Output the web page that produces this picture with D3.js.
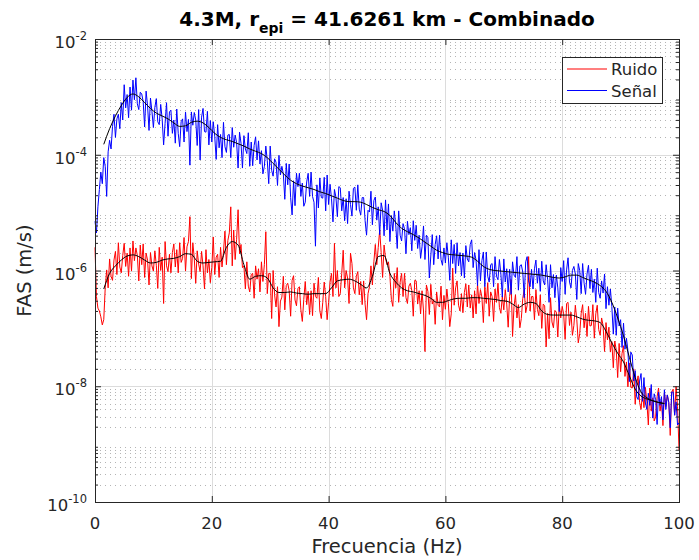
<!DOCTYPE html>
<html>
<head>
<meta charset="utf-8">
<script src="https://cdn.jsdelivr.net/npm/d3@7"></script>
<style>
  body { margin: 0; background: #fff; }
  svg { display: block; }
  text { font-family: "DejaVu Sans", sans-serif; fill: #262626; }
</style>
</head>
<body>
<svg id="chart" width="699" height="560"></svg>
<script>
// Axis ticks
const xTicks = [0, 20, 40, 60, 80, 100];
const yDecades = [-10, -8, -6, -4, -2];
const seriesNames = ["Ruido", "Señal"];

// Raw Fourier amplitude spectra, log10(m/s), sampled every 0.25 Hz from 0 to 100 Hz
// (one row = 5 Hz)
const rawStep = 0.25;
const ruidoLog10 = [
  -5.60,-6.45,-6.65,-6.70, -6.80,-6.94,-6.85,-6.30, -5.99,-6.30,-5.80,-6.10, -6.17,-5.82,-5.67,-6.07, -5.52,-5.94,-6.04,-5.74,
  -5.53,-5.93,-5.70,-6.10, -5.61,-6.01,-5.49,-5.83, -5.61,-5.74,-6.18,-5.56, -5.90,-5.54,-6.12,-5.70, -5.82,-6.25,-5.69,-5.92,
  -6.01,-5.66,-5.91,-6.31, -5.60,-6.00,-5.77,-6.57, -5.50,-5.92,-6.02,-5.72, -6.04,-5.69,-5.54,-5.94, -5.64,-6.04,-5.52,-5.86,
  -5.79,-5.43,-6.01,-5.59, -5.50,-5.07,-6.14,-5.52, -5.79,-6.22,-5.66,-5.89, -6.02,-5.67,-5.92,-6.32, -5.64,-6.04,-5.81,-6.21,
  -5.95,-5.42,-6.07,-5.77, -5.72,-6.12,-5.60,-5.94, -5.68,-5.32,-5.90,-5.48, -5.35,-4.90,-5.92,-5.30, -5.81,-5.46,-4.95,-5.71,
  -5.55,-5.95,-5.92,-6.32, -5.85,-6.27,-6.37,-6.07, -6.05,-6.48,-5.92,-6.15, -5.97,-6.37,-5.85,-6.19, -5.90,-5.33,-6.40,-6.05,
  -6.05,-6.83,-6.00,-6.42, -6.63,-6.28,-6.97,-6.53, -6.46,-6.10,-6.68,-6.26, -6.22,-6.35,-6.79,-6.17, -6.09,-6.51,-6.61,-6.31,
  -6.28,-6.68,-6.88,-6.50, -6.19,-6.59,-6.36,-6.76, -6.35,-6.78,-6.22,-6.45, -6.48,-6.12,-6.70,-6.83, -6.55,-6.20,-6.45,-6.85,
  -6.55,-6.20,-6.05,-6.45, -5.53,-6.30,-6.00,-6.45, -6.40,-6.05,-5.65,-6.30, -6.00,-6.13,-6.57,-5.70, -5.88,-6.30,-6.40,-6.10,
  -6.02,-6.42,-6.19,-6.59, -6.18,-6.58,-6.85,-6.40, -6.28,-5.92,-6.25,-5.85, -5.55,-5.90,-5.60,-5.30, -5.69,-6.12,-5.56,-5.79,
  -5.90,-5.85,-6.10,-6.50, -6.62,-6.05,-6.30,-5.95, -6.55,-6.20,-6.05,-6.45, -6.05,-6.47,-6.57,-6.27, -6.22,-6.35,-6.79,-6.17,
  -6.18,-6.58,-6.35,-6.75, -6.35,-6.70,-7.40,-6.25, -6.36,-6.76,-6.24,-6.58, -6.50,-6.93,-6.37,-6.60, -6.63,-6.27,-6.85,-6.43,
  -6.67,-6.32,-6.57,-6.97, -6.75,-5.96,-6.60,-6.30, -6.18,-6.60,-6.70,-6.40, -6.73,-6.38,-6.23,-6.63, -6.25,-6.65,-6.42,-6.82,
  -6.35,-6.75,-6.23,-6.57, -6.33,-6.46,-6.90,-6.28, -6.57,-6.21,-6.79,-6.37, -6.45,-6.88,-6.32,-6.55, -6.22,-6.64,-6.74,-6.44,
  -6.68,-6.33,-6.58,-6.98, -6.45,-6.16,-7.14,-6.62, -6.42,-6.82,-6.59,-6.99, -6.83,-6.48,-6.33,-6.73, -6.60,-5.76,-6.70,-6.45,
  -6.45,-6.85,-6.33,-6.67, -6.78,-6.42,-7.00,-6.58, -6.61,-7.32,-6.74,-7.18, -6.47,-6.89,-6.99,-6.69, -6.72,-7.15,-6.59,-6.82,
  -6.62,-6.75,-7.19,-6.57, -6.55,-6.95,-6.72,-7.12, -6.95,-6.60,-6.85,-7.25, -7.09,-6.74,-6.59,-6.99, -6.74,-7.14,-6.62,-6.96,
  -6.95,-6.59,-7.17,-6.75, -6.60,-7.02,-7.12,-6.82, -6.95,-7.40,-6.90,-7.20, -6.98,-7.41,-7.23,-7.68, -7.22,-7.37,-7.85,-7.26,
  -7.75,-7.43,-7.30,-7.83, -7.58,-8.01,-7.60,-8.02, -8.03,-7.70,-8.31,-7.97, -7.82,-8.28,-8.40,-8.11, -8.37,-8.02,-8.27,-8.67,
  -8.03,-8.43,-8.20,-8.60, -8.53,-8.18,-8.03,-8.43, -8.25,-8.68,-8.12,-8.35, -8.15,-8.28,-8.85,-8.10, -8.05,-8.50,-8.00,-8.35,
  -9.10
];
const senalLog10 = [
  -5.15,-5.35,-4.90,-4.60, -4.30,-4.50,-4.05,-4.20, -4.72,-3.95,-3.75,-3.90, -3.51,-3.30,-3.70,-3.38, -3.30,-3.55,-3.10,-3.40,
  -2.79,-3.19,-2.96,-3.36, -2.83,-3.23,-2.71,-3.05, -2.67,-3.12,-3.22,-2.92, -2.95,-3.08,-3.52,-2.90, -3.15,-3.58,-3.02,-3.25,
  -3.53,-3.18,-3.03,-3.43, -3.48,-3.13,-3.38,-3.83, -3.46,-3.10,-3.68,-3.26, -3.23,-3.63,-3.40,-3.80, -3.21,-3.63,-3.86,-3.43,
  -3.38,-3.78,-3.26,-3.60, -3.39,-4.18,-3.26,-3.49, -3.27,-3.40,-3.84,-3.22, -4.09,-3.35,-3.20,-3.60, -3.61,-3.25,-3.83,-3.41,
  -3.78,-3.43,-3.68,-4.08, -3.48,-3.88,-3.65,-4.05, -3.44,-3.86,-3.96,-3.66, -3.65,-4.05,-3.53,-3.87, -3.66,-3.79,-4.23,-3.61,
  -3.80,-4.23,-3.67,-3.90, -3.98,-3.62,-4.20,-3.78, -4.19,-3.84,-3.69,-4.09, -3.76,-4.16,-3.93,-4.33, -4.20,-3.85,-4.10,-4.50,
  -3.85,-4.27,-4.37,-4.07, -4.13,-4.53,-4.01,-4.35, -4.20,-4.33,-4.77,-4.15, -4.52,-4.16,-4.74,-5.04, -4.45,-4.88,-4.32,-4.55,
  -4.32,-4.72,-4.49,-4.89, -4.82,-4.47,-4.32,-4.72, -4.30,-4.72,-4.82,-5.58, -4.52,-4.92,-4.40,-4.74, -4.75,-4.39,-4.97,-4.35,
  -4.86,-4.51,-4.76,-5.16, -4.60,-4.73,-5.07,-4.55, -4.57,-4.97,-4.74,-5.14, -4.76,-5.19,-4.63,-4.86, -5.06,-4.58,-4.56,-4.96,
  -4.52,-4.94,-5.04,-4.74, -4.74,-5.14,-5.39,-4.96, -4.99,-4.63,-5.21,-4.79, -4.73,-5.13,-4.90,-5.38, -4.83,-4.96,-5.40,-4.78,
  -5.30,-4.85,-5.50,-5.05, -5.32,-4.97,-5.22,-5.62, -4.97,-5.39,-5.49,-5.19, -5.28,-5.71,-5.15,-5.38, -5.26,-5.66,-5.14,-5.48,
  -5.22,-5.62,-5.39,-5.79, -5.59,-5.23,-5.81,-5.39, -5.43,-6.13,-5.75,-5.38, -5.90,-5.55,-5.40,-5.80, -5.39,-5.81,-5.91,-5.61,
  -5.87,-5.52,-5.77,-6.17, -5.47,-5.88,-5.55,-6.05, -5.52,-5.92,-5.69,-6.09, -5.70,-6.13,-5.57,-5.80, -5.85,-5.55,-5.47,-5.95,
  -5.69,-5.82,-6.26,-5.64, -6.18,-5.83,-5.68,-6.28, -5.68,-6.10,-6.20,-5.90, -5.88,-6.28,-5.76,-6.10, -6.16,-5.81,-6.06,-6.46,
  -5.80,-6.20,-5.97,-6.37, -5.98,-6.41,-5.85,-6.08, -6.12,-5.76,-6.34,-5.92, -5.90,-6.03,-6.47,-5.85, -5.76,-6.18,-6.28,-5.98,
  -6.32,-5.97,-5.82,-6.22, -5.96,-6.36,-5.84,-6.18, -6.25,-5.90,-6.15,-6.55, -5.90,-6.30,-6.07,-6.47, -6.08,-6.30,-6.71,-5.95,
  -6.19,-5.83,-6.41,-5.99, -5.78,-6.20,-6.30,-6.00, -5.93,-6.06,-6.50,-5.88, -6.00,-6.40,-5.88,-6.22, -6.41,-6.06,-5.91,-6.31,
  -5.98,-6.38,-6.15,-6.55, -5.96,-6.38,-6.48,-6.18, -6.39,-6.06,-6.66,-6.28, -6.60,-6.32,-6.62,-7.10, -6.63,-7.12,-6.65,-6.96,
  -6.85,-7.33,-6.91,-7.36, -7.17,-7.38,-7.92,-7.41, -7.46,-7.91,-7.73,-8.18, -8.23,-7.91,-7.78,-8.26, -7.85,-8.29,-8.40,-8.12,
  -8.33,-7.97,-8.55,-8.13, -8.23,-8.66,-8.10,-8.33, -8.18,-8.58,-8.06,-8.40, -8.15,-8.28,-8.72,-8.10, -8.10,-8.50,-8.27,-8.67,
  -8.63
];

// Smoothed spectra, log10(m/s), every 1 Hz from 1.5 to 97.5 Hz
const smoothStart = 1.5;
const smoothStep = 1;
const ruidoSmoothLog10 = [
  -6.32,-6.05,-5.92,-5.82,-5.75,-5.73,-5.76,-5.82,-5.87,-5.86,
  -5.82,-5.80,-5.79,-5.76,-5.71,-5.72,-5.84,-5.87,-5.86,-5.85,
  -5.84,-5.60,-5.50,-5.56,-5.90,-6.15,-6.10,-6.09,-6.13,-6.30,
  -6.38,-6.38,-6.37,-6.39,-6.40,-6.41,-6.40,-6.40,-6.40,-6.30,
  -6.18,-6.16,-6.15,-6.18,-6.24,-6.30,-6.10,-5.76,-5.74,-6.05,
  -6.20,-6.30,-6.35,-6.37,-6.40,-6.43,-6.48,-6.55,-6.55,-6.52,
  -6.49,-6.48,-6.48,-6.47,-6.47,-6.48,-6.49,-6.50,-6.52,-6.53,
  -6.58,-6.64,-6.58,-6.55,-6.57,-6.70,-6.76,-6.77,-6.77,-6.77,
  -6.77,-6.80,-6.84,-6.86,-6.87,-6.90,-7.05,-7.25,-7.43,-7.58,
  -7.82,-8.05,-8.17,-8.22,-8.25,-8.28,-8.30
];
const senalSmoothLog10 = [
  -3.82,-3.55,-3.33,-3.15,-3.01,-2.95,-3.00,-3.10,-3.20,-3.28,
  -3.33,-3.38,-3.45,-3.51,-3.50,-3.44,-3.42,-3.45,-3.53,-3.63,
  -3.70,-3.74,-3.77,-3.81,-3.85,-3.90,-3.94,-3.98,-4.05,-4.15,
  -4.25,-4.35,-4.44,-4.50,-4.54,-4.57,-4.60,-4.64,-4.67,-4.71,
  -4.75,-4.79,-4.81,-4.81,-4.82,-4.86,-4.91,-4.95,-4.98,-5.05,
  -5.17,-5.27,-5.33,-5.38,-5.44,-5.51,-5.58,-5.65,-5.69,-5.72,
  -5.73,-5.74,-5.75,-5.77,-5.84,-5.93,-5.98,-6.00,-6.01,-6.02,
  -6.03,-6.04,-6.05,-6.06,-6.07,-6.08,-6.10,-6.12,-6.13,-6.11,
  -6.08,-6.08,-6.12,-6.16,-6.20,-6.26,-6.36,-6.55,-6.82,-7.13,
  -7.50,-7.85,-8.10,-8.20,-8.25,-8.28,-8.30
];

const svg = d3.select("#chart");
const plotLeft = 95, plotRight = 679, plotTop = 39, plotBottom = 502;
const x = d3.scaleLinear().domain([0, 100]).range([plotLeft, plotRight]);
const y = d3.scaleLog().domain([1e-10, 1e-2]).range([plotBottom, plotTop]);

const majorY = yDecades.map(d => Math.pow(10, d));
const minorY = [];
for (let d = -10; d < -2; d++) for (let k = 2; k <= 9; k++) minorY.push(k * Math.pow(10, d));

// Minor grid (dotted, horizontal only)
svg.append("g").selectAll("line").data(minorY).join("line")
  .attr("x1", plotLeft).attr("x2", plotRight)
  .attr("y1", d => Math.round(y(d)) + 0.5).attr("y2", d => Math.round(y(d)) + 0.5)
  .attr("stroke", "#b4b4b4").attr("stroke-width", 1)
  .attr("stroke-dasharray", "1,4");

// Major grid
svg.append("g").selectAll("line").data(majorY).join("line")
  .attr("x1", plotLeft).attr("x2", plotRight)
  .attr("y1", d => Math.round(y(d)) + 0.5).attr("y2", d => Math.round(y(d)) + 0.5)
  .attr("stroke", "#dcdcdc").attr("stroke-width", 1);
svg.append("g").selectAll("line").data(xTicks).join("line")
  .attr("x1", d => Math.round(x(d)) + 0.5).attr("x2", d => Math.round(x(d)) + 0.5)
  .attr("y1", plotTop).attr("y2", plotBottom)
  .attr("stroke", "#dcdcdc").attr("stroke-width", 1);

// Spectra
const plot = svg.append("g");
const rawLine = d3.line()
  .x((d, i) => x(i * rawStep))
  .y(d => y(Math.pow(10, d)));
const smoothLine = d3.line()
  .x((d, i) => x(smoothStart + i * smoothStep))
  .y(d => y(Math.pow(10, d)))
  .curve(d3.curveMonotoneX);

plot.append("path").datum(ruidoLog10).attr("d", rawLine)
  .attr("fill", "none").attr("stroke", "#ff0000").attr("stroke-width", 1).attr("stroke-linejoin", "round");
plot.append("path").datum(senalLog10).attr("d", rawLine)
  .attr("fill", "none").attr("stroke", "#0000ff").attr("stroke-width", 1).attr("stroke-linejoin", "round");
plot.append("path").datum(ruidoSmoothLog10).attr("d", smoothLine)
  .attr("fill", "none").attr("stroke", "#000").attr("stroke-width", 1);
plot.append("path").datum(senalSmoothLog10).attr("d", smoothLine)
  .attr("fill", "none").attr("stroke", "#000").attr("stroke-width", 1);

// Axes: ticks drawn inward on all four sides
const axisColor = "#262626";
function styleAxis(g) {
  g.select(".domain").remove();
  g.selectAll(".tick line").attr("stroke", axisColor);
}
svg.append("g").attr("transform", `translate(0,${plotBottom})`)
  .call(d3.axisBottom(x).tickValues(xTicks).tickSizeInner(-6).tickSizeOuter(0).tickFormat(""))
  .call(styleAxis);
svg.append("g").attr("transform", `translate(0,${plotTop})`)
  .call(d3.axisTop(x).tickValues(xTicks).tickSizeInner(-6).tickSizeOuter(0).tickFormat(""))
  .call(styleAxis);
svg.append("g").attr("transform", `translate(${plotLeft},0)`)
  .call(d3.axisLeft(y).tickValues(majorY).tickSizeInner(-6).tickSizeOuter(0).tickFormat(""))
  .call(styleAxis);
svg.append("g").attr("transform", `translate(${plotRight},0)`)
  .call(d3.axisRight(y).tickValues(majorY).tickSizeInner(-6).tickSizeOuter(0).tickFormat(""))
  .call(styleAxis);
svg.append("g").attr("transform", `translate(${plotLeft},0)`)
  .call(d3.axisLeft(y).tickValues(minorY).tickSizeInner(-3).tickSizeOuter(0).tickFormat(""))
  .call(styleAxis);
svg.append("g").attr("transform", `translate(${plotRight},0)`)
  .call(d3.axisRight(y).tickValues(minorY).tickSizeInner(-3).tickSizeOuter(0).tickFormat(""))
  .call(styleAxis);

// Box
svg.append("rect").attr("x", plotLeft + 0.5).attr("y", plotTop + 0.5)
  .attr("width", plotRight - plotLeft).attr("height", plotBottom - plotTop)
  .attr("fill", "none").attr("stroke", axisColor).attr("stroke-width", 1);

// Tick labels
svg.append("g").selectAll("text").data(xTicks).join("text")
  .attr("x", d => x(d)).attr("y", 529)
  .attr("text-anchor", "middle").attr("font-size", 16.5)
  .text(d => d);
const yLab = svg.append("g").selectAll("text").data(yDecades).join("text")
  .attr("x", 87).attr("y", d => y(Math.pow(10, d)) + 9)
  .attr("text-anchor", "end").attr("font-size", 16.5);
yLab.append("tspan").text("10");
yLab.append("tspan").attr("dy", -8).attr("font-size", 11.5).text(d => d);

// Axis labels
svg.append("text").attr("x", (plotLeft + plotRight) / 2).attr("y", 553)
  .attr("text-anchor", "middle").attr("font-size", 19.5)
  .text("Frecuencia (Hz)");
svg.append("text").attr("transform", `translate(31,${(plotTop + plotBottom) / 2}) rotate(-90)`)
  .attr("text-anchor", "middle").attr("font-size", 19.5)
  .text("FAS (m/s)");

// Title
const title = svg.append("text").attr("x", (plotLeft + plotRight) / 2).attr("y", 26)
  .attr("text-anchor", "middle").attr("font-size", 20).attr("font-weight", "bold")
  .style("fill", "#000");
title.append("tspan").text("4.3M, r");
title.append("tspan").attr("dy", 7).attr("font-size", 14).text("epi");
title.append("tspan").attr("dy", -7).text(" = 41.6261 km - Combinado");

// Legend
const legend = svg.append("g");
legend.append("rect").attr("x", 562.5).attr("y", 57.5).attr("width", 100).attr("height", 46)
  .attr("fill", "#fff").attr("stroke", axisColor).attr("stroke-width", 1);
const legendColors = ["#ff0000", "#0000ff"];
seriesNames.forEach((name, i) => {
  const ly = 69 + i * 21.5;
  legend.append("line").attr("x1", 567).attr("x2", 607).attr("y1", ly).attr("y2", ly)
    .attr("stroke", legendColors[i]).attr("stroke-width", 1.1);
  legend.append("text").attr("x", 611).attr("y", ly + 6).attr("font-size", 16.5).text(name);
});
</script>
</body>
</html>
